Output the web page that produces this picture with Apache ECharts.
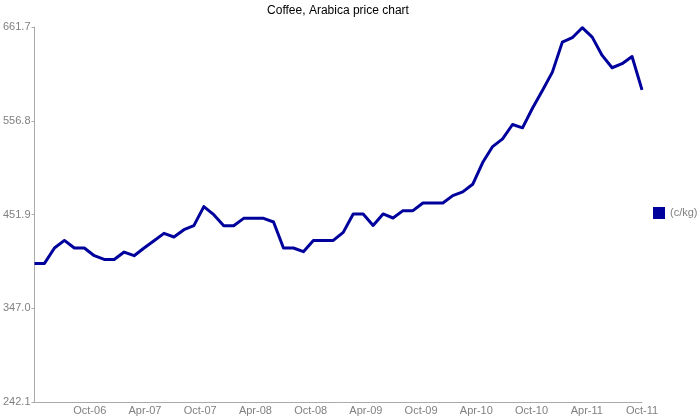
<!DOCTYPE html>
<html>
<head>
<meta charset="utf-8">
<script src="https://cdn.jsdelivr.net/npm/echarts@6/dist/echarts.min.js"></script>
<style>html,body{margin:0;padding:0;background:#fff}#c{width:700px;height:420px}</style>
</head>
<body>
<div id="c"></div>
<script>
var titleText = 'Coffee, Arabica price chart';
var seriesName = '(c/kg)';
var prices = [397.2, 397.2, 414.4, 422.9, 414.4, 414.4, 405.8, 401.6, 401.6, 409.9,
  405.8, 414.4, 422.6, 430.8, 426.7, 434.9, 439.4, 460.7, 451.7, 439.4,
  439.4, 447.6, 447.6, 447.6, 443.5, 414.4, 414.4, 410.3, 422.9, 422.9,
  422.9, 431.9, 452.5, 452.5, 439.7, 452.5, 448.0, 456.2, 456.2, 464.8,
  464.8, 464.8, 473.0, 477.2, 485.7, 510.0, 527.9, 536.5, 552.6, 548.9,
  570.8, 590.7, 611.2, 644.8, 649.7, 660.9, 650.4, 629.9, 616.1, 620.6,
  628.7, 591.4];
var pointIndex = prices.map(function (v, i) { return String(i); });
var xTickLabels = ['', 'Oct-06', 'Apr-07', 'Oct-07', 'Apr-08', 'Oct-08', 'Apr-09', 'Oct-09', 'Apr-10', 'Oct-10', 'Apr-11', 'Oct-11'];
var yTicks = [242.1, 347.0, 451.9, 556.8, 661.7];

var chart = echarts.init(document.getElementById('c'), null, {renderer: 'canvas'});
chart.setOption({
  animation: false,
  backgroundColor: '#ffffff',
  textStyle: {fontFamily: 'Liberation Sans, Arial, sans-serif'},
  title: {
    text: titleText,
    left: 338,
    textAlign: 'center',
    top: 5,
    padding: 0,
    textStyle: {fontSize: 12, fontWeight: 'normal', color: '#000000', fontFamily: 'Liberation Sans, Arial, sans-serif'}
  },
  legend: {
    data: [seriesName],
    orient: 'vertical',
    left: 653,
    top: 207,
    padding: 0,
    itemWidth: 12,
    itemHeight: 12,
    itemGap: 5,
    icon: 'rect',
    textStyle: {fontSize: 11, color: '#808080', padding: [0, 0, 0, 0]}
  },
  grid: {left: 33, right: 58, top: 27, bottom: 18, containLabel: false},
  xAxis: [{
    type: 'category',
    data: pointIndex,
    boundaryGap: false,
    axisLine: {show: true, lineStyle: {color: '#aaaaaa', width: 1}},
    axisTick: {show: false},
    axisLabel: {show: false},
    splitLine: {show: false}
  }, {
    type: 'value',
    position: 'bottom',
    offset: 0,
    min: 0,
    max: xTickLabels.length - 1,
    interval: 1,
    axisLine: {show: false},
    axisTick: {show: false},
    splitLine: {show: false},
    axisLabel: {
      show: true,
      margin: 3,
      fontSize: 11,
      color: '#808080',
      showMinLabel: true,
      showMaxLabel: true,
      formatter: function (v) { return xTickLabels[Math.round(v)] || ''; }
    }
  }],
  yAxis: {
    type: 'value',
    min: yTicks[0],
    max: yTicks[yTicks.length - 1],
    axisLine: {show: true, lineStyle: {color: '#aaaaaa', width: 1}},
    axisTick: {show: true, length: 3, lineStyle: {color: '#aaaaaa'}, customValues: yTicks},
    splitLine: {show: false},
    axisLabel: {
      margin: 4,
      fontSize: 11,
      color: '#808080',
      customValues: yTicks,
      formatter: function (v) { return v.toFixed(1); }
    }
  },
  series: [{
    name: seriesName,
    type: 'line',
    xAxisIndex: 0,
    data: prices,
    showSymbol: false,
    symbol: 'none',
    color: '#00009c',
    lineStyle: {width: 3, color: '#00009c', join: 'round'}
  }]
});
</script>
</body>
</html>
